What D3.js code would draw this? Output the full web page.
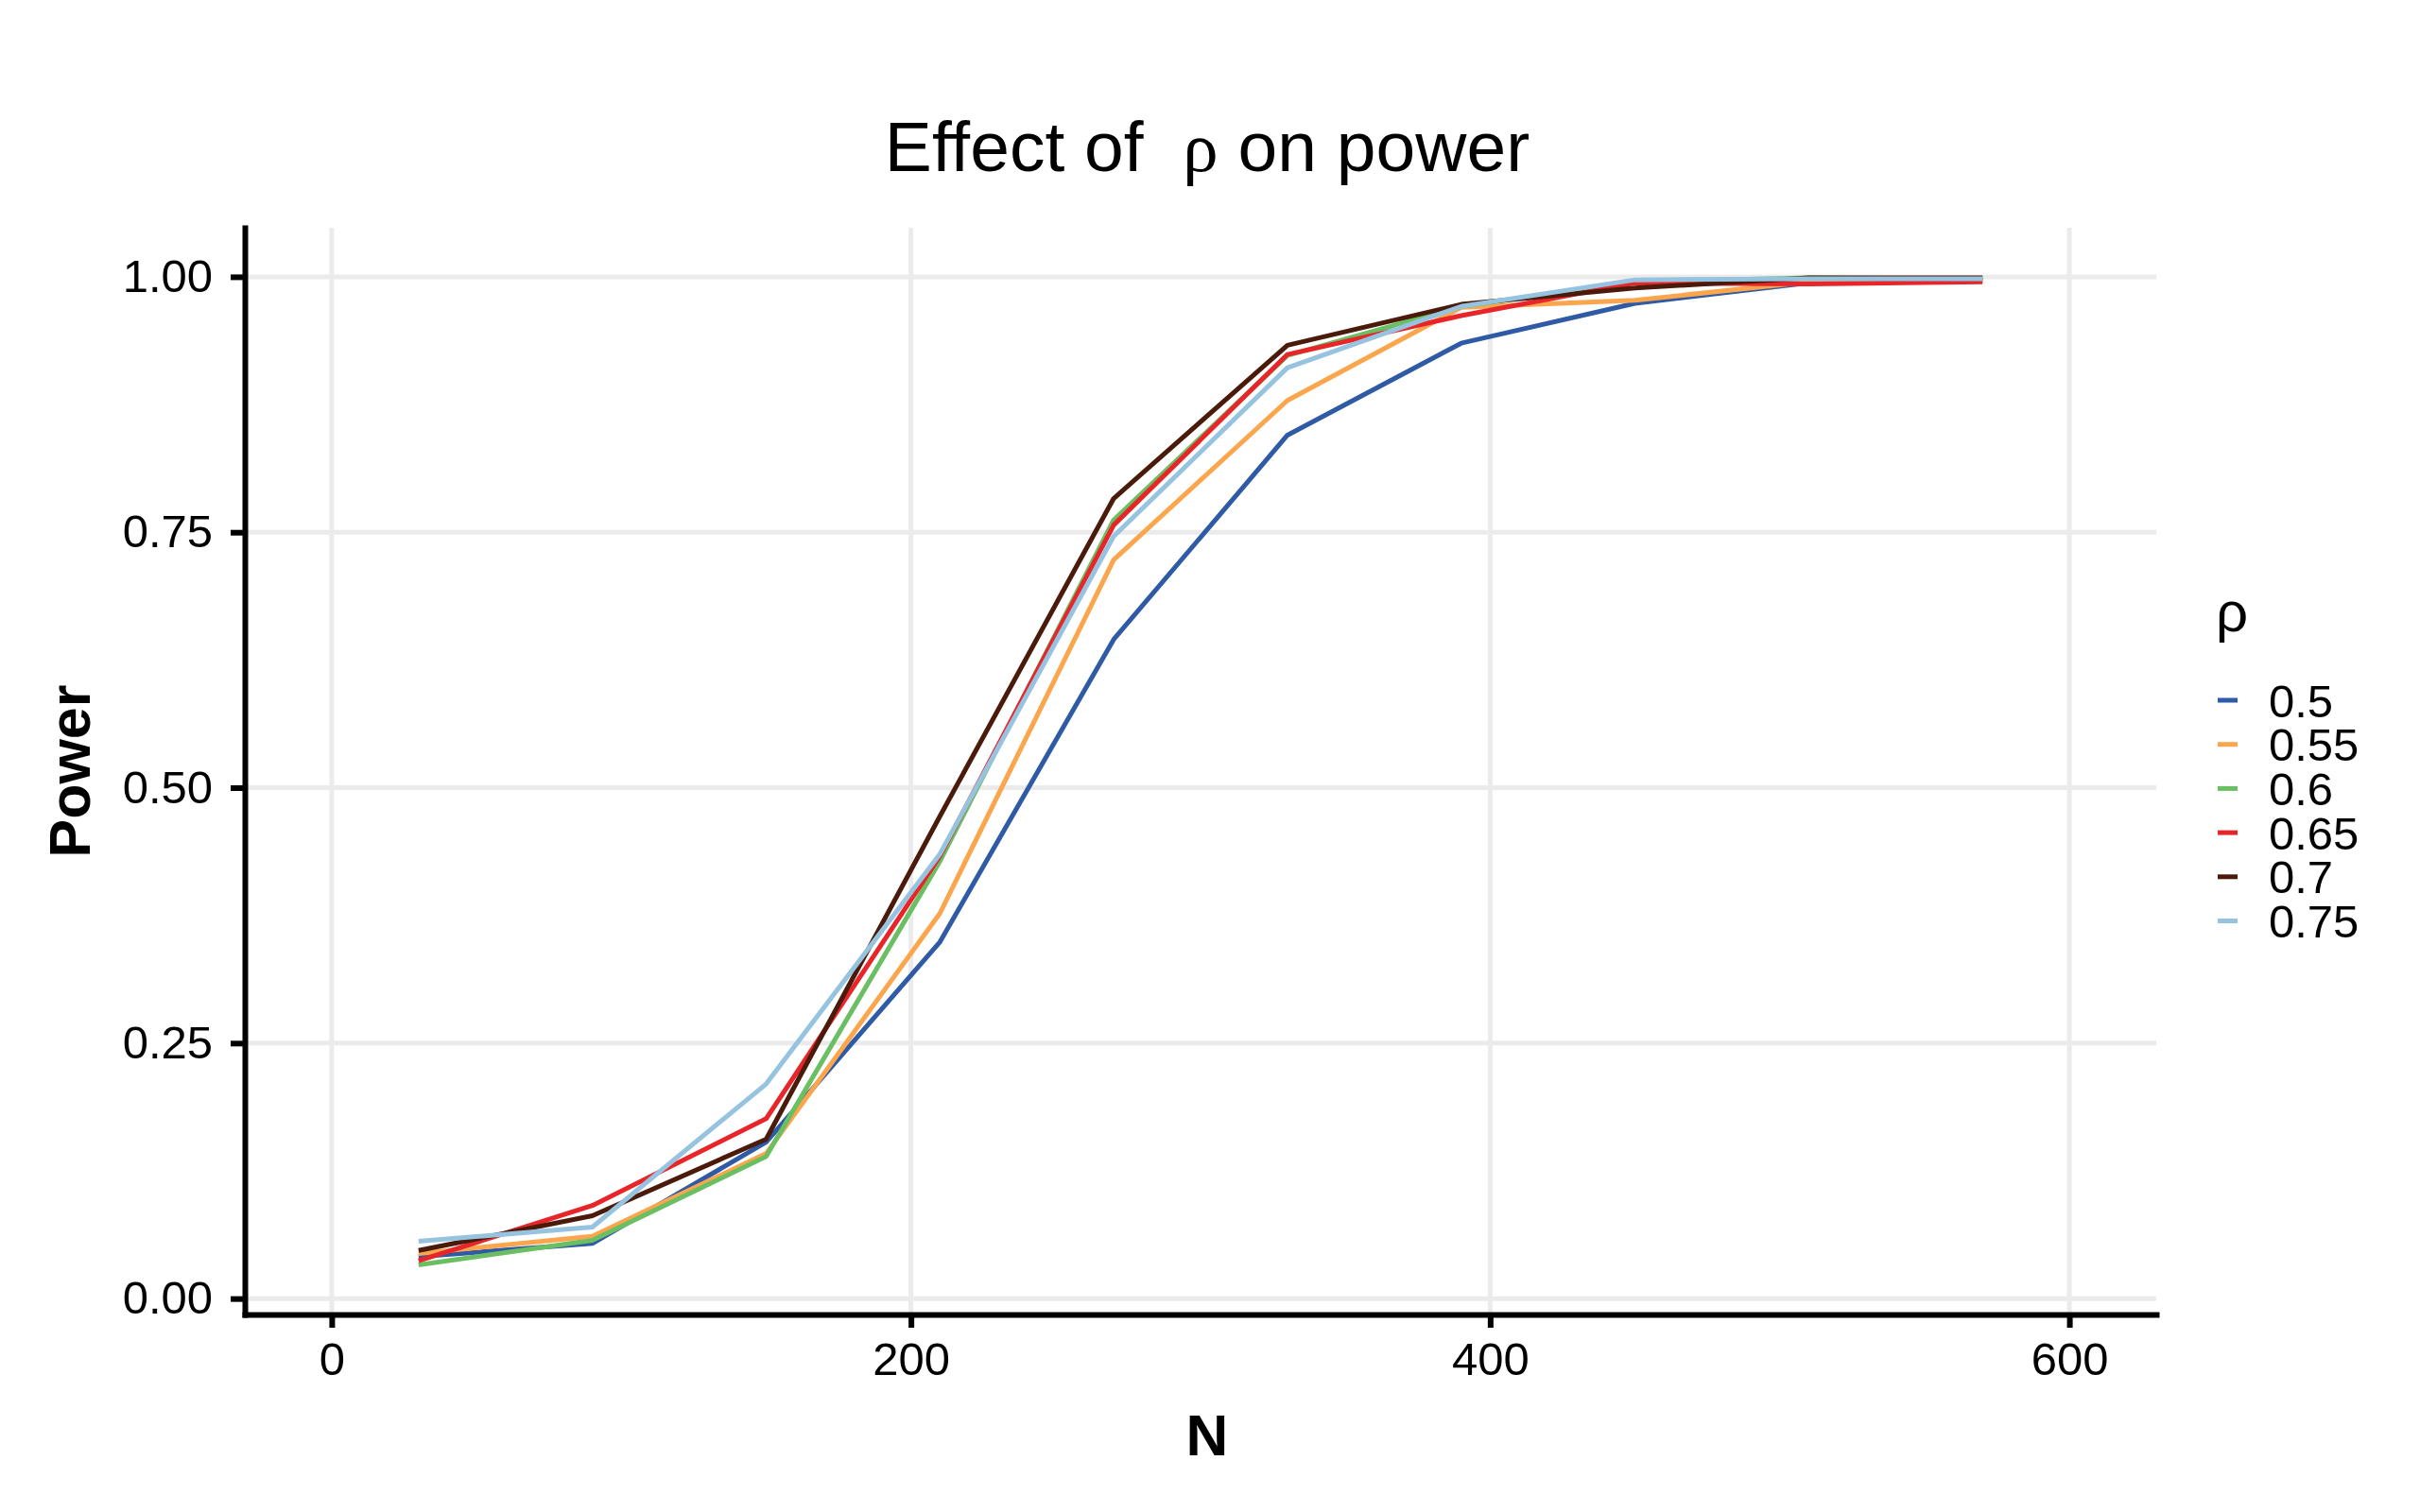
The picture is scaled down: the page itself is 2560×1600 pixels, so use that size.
<!DOCTYPE html>
<html>
<head>
<meta charset="utf-8">
<script src="https://cdn.jsdelivr.net/npm/d3@7"></script>
<style>
  body { margin: 0; background: #fff; }
  text { font-family: "Liberation Sans", Arial, sans-serif; fill: #000; }
</style>
</head>
<body>
<div id="chart"></div>
<script>
// Sample sizes on the x axis
const sampleSizes = [30, 90, 150, 210, 270, 330, 390, 450, 510, 570];

// rho levels (legend entries) and their colours
const rhoLevels = ["0.5", "0.55", "0.6", "0.65", "0.7", "0.75"];
const rhoColors = ["#2E5AA6", "#FBA64C", "#6ABF63", "#E8262A", "#4A1B0B", "#96C3DF"];

// Power per rho level, one value per sample size
const power05  = [0.041, 0.054, 0.153, 0.349, 0.645, 0.845, 0.935, 0.974, 0.994, 0.997];
const power055 = [0.044, 0.061, 0.142, 0.377, 0.723, 0.879, 0.970, 0.977, 0.995, 0.997];
const power06  = [0.033, 0.057, 0.139, 0.428, 0.762, 0.923, 0.971, 0.995, 0.999, 0.998];
const power065 = [0.037, 0.091, 0.176, 0.433, 0.757, 0.924, 0.962, 0.994, 0.993, 0.995];
const power07  = [0.047, 0.081, 0.156, 0.472, 0.783, 0.933, 0.973, 0.989, 0.999, 0.999];
const power075 = [0.056, 0.070, 0.210, 0.435, 0.746, 0.911, 0.971, 0.997, 0.998, 0.998];
const powerSeries = [power05, power055, power06, power065, power07, power075];

// Tick values
const xTicks = [0, 200, 400, 600];
const yTicks = [0, 0.25, 0.5, 0.75, 1];

const W = 2560, H = 1600;
const panel = {left: 259, right: 2281, top: 241, bottom: 1391};

const svg = d3.select("#chart")
    .append("svg")
    .attr("width", W)
    .attr("height", H)
    .style("background", "#fff");

const x = d3.scaleLinear()
    .domain([-30, 630])
    .range([panel.left, panel.right]);
const y = d3.scaleLinear()
    .domain([-0.0156, 1.048])
    .range([panel.bottom, panel.top]);

// Grid lines
const grid = svg.append("g").attr("stroke", "#ebebeb").attr("stroke-width", 5);
grid.selectAll(".gx")
    .data(xTicks)
    .enter()
    .append("line")
    .attr("x1", d => x(d)).attr("x2", d => x(d))
    .attr("y1", panel.top).attr("y2", panel.bottom);
grid.selectAll(".gy")
    .data(yTicks)
    .enter()
    .append("line")
    .attr("y1", d => y(d)).attr("y2", d => y(d))
    .attr("x1", panel.left).attr("x2", panel.right);

// Lines, one per rho level
const line = d3.line()
    .x((d, i) => x(sampleSizes[i]))
    .y(d => y(d));

svg.append("g")
    .selectAll("path")
    .data(powerSeries)
    .enter()
    .append("path")
    .attr("d", d => line(d))
    .attr("fill", "none")
    .attr("stroke", (d, i) => rhoColors[i])
    .attr("stroke-width", 5)
    .attr("stroke-linejoin", "round");

// Axes
const xAxis = svg.append("g")
    .attr("transform", `translate(0, ${panel.bottom})`)
    .call(d3.axisBottom(x).tickValues(xTicks).tickSize(14).tickSizeOuter(0).tickPadding(15));
const yAxis = svg.append("g")
    .attr("transform", `translate(${panel.left}, 0)`)
    .call(d3.axisLeft(y).tickValues(yTicks).tickFormat(d3.format(".2f")).tickSize(15).tickSizeOuter(0).tickPadding(19));

[xAxis, yAxis].forEach(a => {
    a.select(".domain").attr("stroke", "#000").attr("stroke-width", 6).attr("stroke-linecap", "square");
    a.selectAll(".tick line").attr("stroke", "#000").attr("stroke-width", 6);
    a.selectAll(".tick text")
        .attr("font-family", "Liberation Sans, Arial, sans-serif")
        .attr("font-size", 49)
        .attr("fill", "#000");
});

// Title
const title = svg.append("text")
    .attr("x", 1277)
    .attr("y", 181)
    .attr("text-anchor", "middle")
    .attr("font-size", 75)
    .style("white-space", "pre");
title.append("tspan").text("Effect of  ");
title.append("tspan").attr("font-family", "Liberation Serif, serif").text("ρ");
title.append("tspan").text(" on power");

// Axis titles
svg.append("text")
    .attr("x", 1277)
    .attr("y", 1540)
    .attr("text-anchor", "middle")
    .attr("font-size", 62)
    .attr("font-weight", "bold")
    .text("N");

svg.append("text")
    .attr("transform", `translate(95, ${(panel.top + panel.bottom) / 2}) rotate(-90)`)
    .attr("text-anchor", "middle")
    .attr("font-size", 61)
    .attr("font-weight", "bold")
    .text("Power");

// Legend
const legend = svg.append("g").attr("transform", "translate(2346, 0)");
legend.append("text")
    .attr("x", -2)
    .attr("y", 668)
    .attr("font-family", "Liberation Serif, serif")
    .attr("font-size", 60)
    .text("ρ");

const items = legend.selectAll(".item")
    .data(rhoLevels)
    .enter()
    .append("g")
    .attr("transform", (d, i) => `translate(0, ${741 + i * 46.7})`);
items.append("line")
    .attr("x1", 0).attr("x2", 21)
    .attr("stroke", (d, i) => rhoColors[i])
    .attr("stroke-width", 5);
items.append("text")
    .attr("x", 54)
    .attr("dy", "0.36em")
    .attr("font-size", 49)
    .text(d => d);
</script>
</body>
</html>
